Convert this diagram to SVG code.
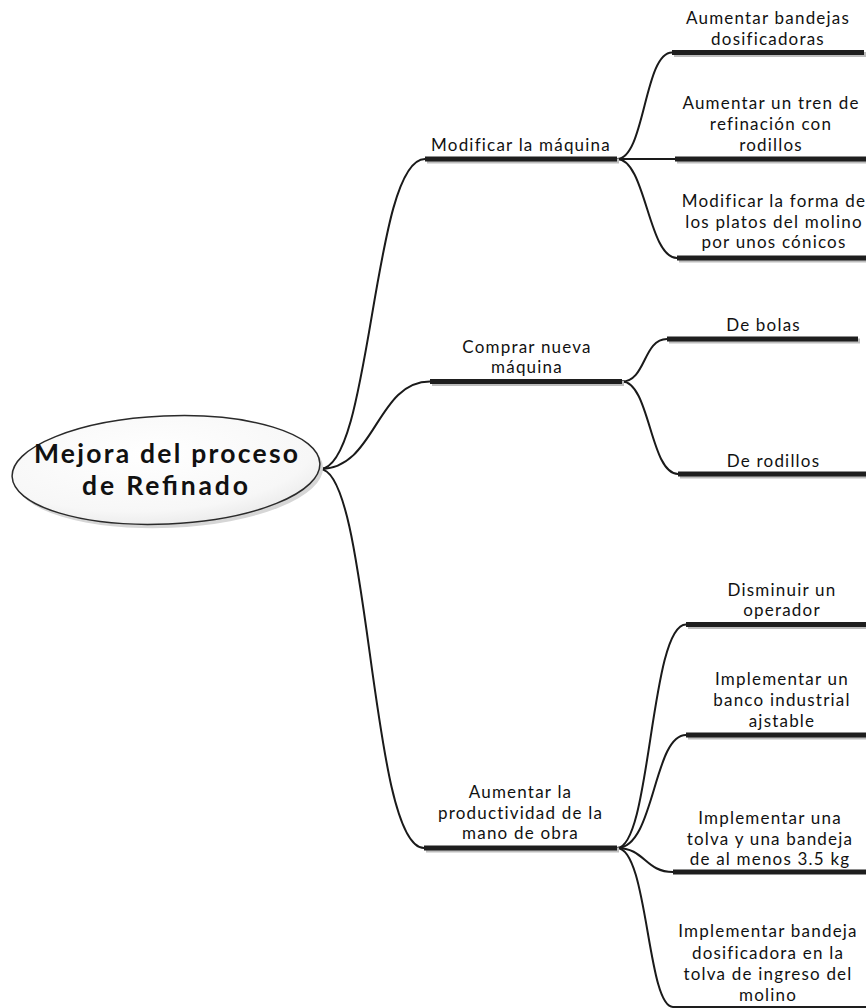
<svg xmlns="http://www.w3.org/2000/svg" width="866" height="1008" viewBox="0 0 866 1008">
  <defs>
    <radialGradient id="rootFill" cx="0.45" cy="0.35" r="0.75">
      <stop offset="0" stop-color="#ffffff"/>
      <stop offset="0.7" stop-color="#f7f7f7"/>
      <stop offset="1" stop-color="#e4e4e4"/>
    </radialGradient>
    <style>
      .label { font-family: Lato, "Open Sans", "Liberation Sans", sans-serif; font-size: 17px; letter-spacing: 1.2px; fill: #111; text-anchor: middle; }
      .root-label { font-family: Lato, "Open Sans", "Liberation Sans", sans-serif; font-size: 26.5px; font-weight: bold; fill: #111; text-anchor: middle; }
      .bar { fill: #1e1e1e; }
      .bar-shadow { fill: #bdbdbd; }
      .link { fill: none; stroke: #1a1a1a; stroke-width: 2; }
    </style>
  </defs>

  <rect width="866" height="1008" fill="#ffffff"/>

  <!-- connectors -->
  <g id="connectors">
    <!-- root to main branches -->
    <path class="link" d="M320,469 C372,469 372,159 425,159"/>
    <path class="link" d="M320,469 C376,469 376,381.5 430,381.5"/>
    <path class="link" d="M320,469 C370,469 370,848 424,848"/>
    <!-- Modificar la máquina -->
    <path class="link" d="M617,159 C645,159 644,52.5 672,52.5"/>
    <path class="link" d="M617,159 L675,159"/>
    <path class="link" d="M617,159 C646,159 648,258 677,258"/>
    <!-- Comprar nueva máquina -->
    <path class="link" d="M622,381.5 C646,381.5 643,339 667,339"/>
    <path class="link" d="M622,381.5 C650,381.5 650,474 678,474"/>
    <!-- Aumentar la productividad -->
    <path class="link" d="M617,848 C651,848 650,624.5 686,624.5"/>
    <path class="link" d="M617,848 C655,848 653,735 686,735"/>
    <path class="link" d="M617,848 C645,848 645,872 673,872"/>
    <path class="link" d="M617,848 C648,848 647,1007 673,1007"/>
  </g>

  <!-- central topic -->
  <g id="root">
    <g transform="rotate(-2.5 166 470)">
      <ellipse cx="169" cy="474" rx="154" ry="54" fill="#d6d6d6"/>
      <ellipse cx="166" cy="470" rx="154" ry="54" fill="url(#rootFill)" stroke="#2a2a2a" stroke-width="1.5"/>
    </g>
    <text class="root-label" x="166" y="463" textLength="264" lengthAdjust="spacing">Mejora del proceso</text>
    <text class="root-label" x="165" y="495" textLength="166" lengthAdjust="spacing">de Refinado</text>
  </g>

  <!-- main branch: Modificar la máquina -->
  <g id="modificar-maquina">
    <rect class="bar-shadow" x="427" y="158.5" width="192" height="5"/>
    <rect class="bar" x="425" y="156.5" width="192" height="5"/>
    <text class="label" x="521" y="150.5">Modificar la máquina</text>
  </g>

  <g id="aumentar-bandejas">
    <rect class="bar-shadow" x="674" y="52" width="192" height="5"/>
    <rect class="bar" x="672" y="50" width="192" height="5"/>
    <text class="label" x="768" y="24">Aumentar bandejas</text>
    <text class="label" x="768" y="45">dosificadoras</text>
  </g>

  <g id="tren-refinacion">
    <rect class="bar-shadow" x="677" y="158.5" width="191" height="5"/>
    <rect class="bar" x="675" y="156.5" width="191" height="5"/>
    <text class="label" x="771" y="109">Aumentar un tren de</text>
    <text class="label" x="771" y="130">refinación con</text>
    <text class="label" x="771" y="151">rodillos</text>
  </g>

  <g id="platos-conicos">
    <rect class="bar-shadow" x="679" y="257.5" width="189" height="5"/>
    <rect class="bar" x="677" y="255.5" width="189" height="5"/>
    <text class="label" x="774" y="207">Modificar la forma de</text>
    <text class="label" x="774" y="227.5">los platos del molino</text>
    <text class="label" x="774" y="248">por unos cónicos</text>
  </g>

  <!-- main branch: Comprar nueva máquina -->
  <g id="comprar-maquina">
    <rect class="bar-shadow" x="432" y="381" width="192" height="5"/>
    <rect class="bar" x="430" y="379" width="192" height="5"/>
    <text class="label" x="527" y="352.5">Comprar nueva</text>
    <text class="label" x="527" y="373">máquina</text>
  </g>

  <g id="de-bolas">
    <rect class="bar-shadow" x="669" y="338.5" width="191" height="5"/>
    <rect class="bar" x="667" y="336.5" width="191" height="5"/>
    <text class="label" x="763.5" y="330.5">De bolas</text>
  </g>

  <g id="de-rodillos">
    <rect class="bar-shadow" x="680" y="473.5" width="188" height="5"/>
    <rect class="bar" x="678" y="471.5" width="188" height="5"/>
    <text class="label" x="773.5" y="466.5">De rodillos</text>
  </g>

  <!-- main branch: Aumentar la productividad de la mano de obra -->
  <g id="productividad">
    <rect class="bar-shadow" x="426" y="847.5" width="193" height="5"/>
    <rect class="bar" x="424" y="845.5" width="193" height="5"/>
    <text class="label" x="520.5" y="798">Aumentar la</text>
    <text class="label" x="520.5" y="818.5">productividad de la</text>
    <text class="label" x="520.5" y="839">mano de obra</text>
  </g>

  <g id="disminuir-operador">
    <rect class="bar-shadow" x="688" y="624" width="180" height="5"/>
    <rect class="bar" x="686" y="622" width="180" height="5"/>
    <text class="label" x="782" y="595.5">Disminuir un</text>
    <text class="label" x="782" y="616">operador</text>
  </g>

  <g id="banco-industrial">
    <rect class="bar-shadow" x="688" y="734.5" width="180" height="5"/>
    <rect class="bar" x="686" y="732.5" width="180" height="5"/>
    <text class="label" x="782" y="685">Implementar un</text>
    <text class="label" x="782" y="706">banco industrial</text>
    <text class="label" x="782" y="726.5">ajstable</text>
  </g>

  <g id="tolva-bandeja">
    <rect class="bar" x="673" y="869.5" width="193" height="5" fill="#000"/>
    <text class="label" x="770" y="824">Implementar una</text>
    <text class="label" x="770" y="844.5">tolva y una bandeja</text>
    <text class="label" x="770" y="865">de al menos 3.5 kg</text>
  </g>

  <g id="bandeja-dosificadora">
    <rect class="bar" x="673" y="1006" width="193" height="5"/>
    <text class="label" x="768" y="937">Implementar bandeja</text>
    <text class="label" x="768" y="958.5">dosificadora en la</text>
    <text class="label" x="768" y="980">tolva de ingreso del</text>
    <text class="label" x="768" y="1001">molino</text>
  </g>
</svg>
